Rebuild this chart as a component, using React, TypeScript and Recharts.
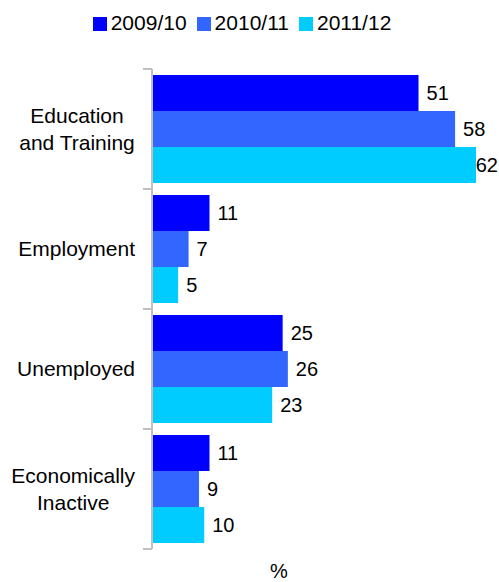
import React, { useLayoutEffect } from 'react'
import { BarChart, Bar, XAxis, YAxis, Legend, LabelList } from 'recharts'

const categories = ['Education and Training', 'Employment', 'Unemployed', 'Economically Inactive']
const seriesNames = ['2009/10', '2010/11', '2011/12']
const values0910 = [51, 11, 25, 11]
const values1011 = [58, 7, 26, 9]
const values1112 = [62, 5, 23, 10]
const axisLabel = '%'

const COLORS = ['#0000ff', '#3366ff', '#00ccff']
const FONT = '"Liberation Sans", Arial, sans-serif'
const FONT_SIZE = 20
const CAT_FONT_SIZE = 21
const CHART_W = 499
const CHART_H = 582
const MARGIN_LEFT = 8
const Y_AXIS_W = 144
const AXIS_X = MARGIN_LEFT + Y_AXIS_W
const AXIS_GREY = '#c0c0c0'

const data = categories.map((name, i) => ({
    name,
    s0: values0910[i],
    s1: values1011[i],
    s2: values1112[i],
}))

let canvas: HTMLCanvasElement | null = null
function measure(text: string, size = FONT_SIZE) {
    if (!canvas) canvas = document.createElement('canvas')
    const ctx = canvas.getContext('2d')
    if (!ctx) return text.length * size * 0.55
    ctx.font = `${size}px ${FONT}`
    return ctx.measureText(text).width
}

function CategoryTick(props: any) {
    const { x, y, payload, index } = props
    const label = String(payload.value)
    const sp = label.indexOf(' ')
    const lines = sp > 0 && label.length > 12 ? [label.slice(0, sp), label.slice(sp + 1)] : [label]
    const block = Math.max(...lines.map((l) => measure(l, CAT_FONT_SIZE)))
    const half = payload.offset ?? 0
    const lineH = 27
    return (
        <g>
            <line x1={AXIS_X - 9} x2={AXIS_X} y1={y - half} y2={y - half} stroke={AXIS_GREY} strokeWidth={2} />
            {index === categories.length - 1 && (
                <line x1={AXIS_X - 9} x2={AXIS_X} y1={y + half} y2={y + half} stroke={AXIS_GREY} strokeWidth={2} />
            )}
            <text textAnchor="middle" fontSize={CAT_FONT_SIZE} fill="#000">
                {lines.map((l, i) => (
                    <tspan key={i} x={x - block / 2} y={y + (i - (lines.length - 1) / 2) * lineH} dy="0.35em">{l}</tspan>
                ))}
            </text>
        </g>
    )
}

function renderValue(p: any) {
    const { x, y, width, height, value } = p
    const tw = measure(String(value))
    const tx = Math.min(Number(x) + Number(width) + 8, CHART_W - tw - 1)
    return (
        <text x={tx} y={Number(y) + Number(height) / 2} dy="0.35em" fontSize={FONT_SIZE} fill="#000">{value}</text>
    )
}

export default function App() {
    // chart fills the whole page, so drop the default body margin
    useLayoutEffect(() => {
        document.body.style.margin = '0'
    }, [])

    return (
        <div style={{ width: CHART_W, height: CHART_H, fontFamily: FONT, fontSize: FONT_SIZE }}>
            <BarChart
                width={CHART_W}
                height={CHART_H}
                data={data}
                layout="vertical"
                margin={{ top: 69, right: 23, left: MARGIN_LEFT, bottom: 0 }}
                barSize={36}
                barGap={0}
            >
                <XAxis
                    type="number"
                    scale="linear"
                    domain={[0, 62]}
                    ticks={[0, 62]}
                    tick={false}
                    axisLine={false}
                    tickLine={false}
                    height={33}
                    label={{ value: axisLabel, position: 'insideBottom', dx: -35, offset: 4, fill: '#000', fontSize: FONT_SIZE }}
                />
                <YAxis
                    type="category"
                    dataKey="name"
                    width={Y_AXIS_W}
                    axisLine={{ stroke: AXIS_GREY, strokeWidth: 2 }}
                    tickLine={false}
                    tickMargin={11}
                    tick={<CategoryTick />}
                    interval={0}
                />
                <Legend
                    verticalAlign="middle"
                    iconType="square"
                    iconSize={14}
                    wrapperStyle={{ top: 11, left: 13, fontSize: CAT_FONT_SIZE }}
                    formatter={(value: any) => <span style={{ color: '#000' }}>{value}</span>}
                />
                {seriesNames.map((s, i) => (
                    <Bar key={s} dataKey={`s${i}`} name={s} fill={COLORS[i]} isAnimationActive={false}>
                        <LabelList dataKey={`s${i}`} content={renderValue} />
                    </Bar>
                ))}
            </BarChart>
        </div>
    )
}
